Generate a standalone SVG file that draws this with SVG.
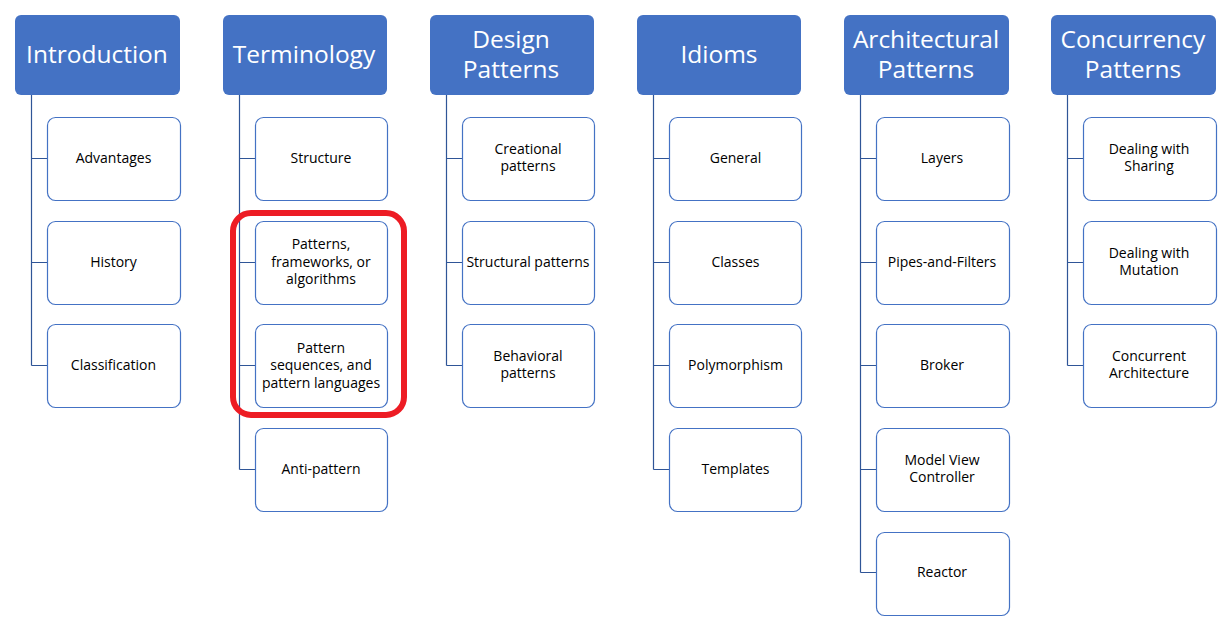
<svg xmlns="http://www.w3.org/2000/svg" width="1228" height="623" viewBox="0 0 1228 623">
<style>
.h{fill:#4472C4;}
.ht{fill:#fff;font-family:"Open Sans","Noto Sans",sans-serif;font-size:24.5px;text-anchor:middle;}
.c{fill:#fff;stroke:#4472C4;stroke-width:1.2;}
.ct{fill:#000;font-family:"Open Sans","Noto Sans",sans-serif;font-size:14px;text-anchor:middle;}
.ln{fill:none;stroke:#2F5597;stroke-width:1.2;}
</style>
<rect width="1228" height="623" fill="#fff"/>
<g id="connectors">
<path class="ln" d="M31.5 95V365.5M31.5 158.5H47M31.5 262.5H47M31.5 365.5H47"/>
<path class="ln" d="M239.5 95V469.5M239.5 158.5H255M239.5 262.5H255M239.5 365.5H255M239.5 469.5H255"/>
<path class="ln" d="M446.5 95V365.5M446.5 158.5H462M446.5 262.5H462M446.5 365.5H462"/>
<path class="ln" d="M653.5 95V469.5M653.5 158.5H669M653.5 262.5H669M653.5 365.5H669M653.5 469.5H669"/>
<path class="ln" d="M860.5 95V572.5M860.5 158.5H876M860.5 262.5H876M860.5 365.5H876M860.5 469.5H876M860.5 572.5H876"/>
<path class="ln" d="M1067.5 95V365.5M1067.5 158.5H1083M1067.5 262.5H1083M1067.5 365.5H1083"/>
</g>
<g id="introduction"><rect class="h" x="15" y="15" width="165" height="80" rx="6"/><text class="ht" x="97" y="63">Introduction</text></g>
<g id="advantages"><rect class="c" x="47.5" y="117.5" width="133" height="83" rx="8"/><text class="ct" x="113.5" y="163">Advantages</text></g>
<g id="history"><rect class="c" x="47.5" y="221.5" width="133" height="83" rx="8"/><text class="ct" x="113.5" y="267">History</text></g>
<g id="classification"><rect class="c" x="47.5" y="324.5" width="133" height="83" rx="8"/><text class="ct" x="113.5" y="370">Classification</text></g>

<g id="terminology"><rect class="h" x="223" y="15" width="164" height="80" rx="6"/><text class="ht" x="304" y="63">Terminology</text></g>
<g id="structure"><rect class="c" x="255.5" y="117.5" width="132" height="83" rx="8"/><text class="ct" x="321" y="163">Structure</text></g>
<g id="patterns-frameworks"><rect class="c" x="255.5" y="221.5" width="132" height="83" rx="8"/><text class="ct" x="321" y="249">Patterns,</text><text class="ct" x="321" y="266.5">frameworks, or</text><text class="ct" x="321" y="284">algorithms</text></g>
<g id="pattern-sequences"><rect class="c" x="255.5" y="324.5" width="132" height="83" rx="8"/><text class="ct" x="321" y="352.5">Pattern</text><text class="ct" x="321" y="370">sequences, and</text><text class="ct" x="321" y="387.5">pattern languages</text></g>
<g id="anti-pattern"><rect class="c" x="255.5" y="428.5" width="132" height="83" rx="8"/><text class="ct" x="321" y="474">Anti-pattern</text></g>

<g id="design-patterns"><rect class="h" x="430" y="15" width="164" height="80" rx="6"/><text class="ht" x="511" y="48">Design</text><text class="ht" x="511" y="78">Patterns</text></g>
<g id="creational"><rect class="c" x="462.5" y="117.5" width="132" height="83" rx="8"/><text class="ct" x="528" y="154">Creational</text><text class="ct" x="528" y="171">patterns</text></g>
<g id="structural"><rect class="c" x="462.5" y="221.5" width="132" height="83" rx="8"/><text class="ct" x="528" y="267">Structural patterns</text></g>
<g id="behavioral"><rect class="c" x="462.5" y="324.5" width="132" height="83" rx="8"/><text class="ct" x="528" y="361">Behavioral</text><text class="ct" x="528" y="378">patterns</text></g>

<g id="idioms"><rect class="h" x="637" y="15" width="164" height="80" rx="6"/><text class="ht" x="719" y="63">Idioms</text></g>
<g id="general"><rect class="c" x="669.5" y="117.5" width="132" height="83" rx="8"/><text class="ct" x="735.5" y="163">General</text></g>
<g id="classes"><rect class="c" x="669.5" y="221.5" width="132" height="83" rx="8"/><text class="ct" x="735.5" y="267">Classes</text></g>
<g id="polymorphism"><rect class="c" x="669.5" y="324.5" width="132" height="83" rx="8"/><text class="ct" x="735.5" y="370">Polymorphism</text></g>
<g id="templates"><rect class="c" x="669.5" y="428.5" width="132" height="83" rx="8"/><text class="ct" x="735.5" y="474">Templates</text></g>

<g id="architectural-patterns"><rect class="h" x="844" y="15" width="165" height="80" rx="6"/><text class="ht" x="926" y="48">Architectural</text><text class="ht" x="926" y="78">Patterns</text></g>
<g id="layers"><rect class="c" x="876.5" y="117.5" width="133" height="83" rx="8"/><text class="ct" x="942" y="163">Layers</text></g>
<g id="pipes-and-filters"><rect class="c" x="876.5" y="221.5" width="133" height="83" rx="8"/><text class="ct" x="942" y="267">Pipes-and-Filters</text></g>
<g id="broker"><rect class="c" x="876.5" y="324.5" width="133" height="83" rx="8"/><text class="ct" x="942" y="370">Broker</text></g>
<g id="mvc"><rect class="c" x="876.5" y="428.5" width="133" height="83" rx="8"/><text class="ct" x="942" y="465">Model View</text><text class="ct" x="942" y="482">Controller</text></g>
<g id="reactor"><rect class="c" x="876.5" y="532.5" width="133" height="83" rx="8"/><text class="ct" x="942" y="577">Reactor</text></g>

<g id="concurrency-patterns"><rect class="h" x="1051" y="15" width="165" height="80" rx="6"/><text class="ht" x="1133" y="48">Concurrency</text><text class="ht" x="1133" y="78">Patterns</text></g>
<g id="sharing"><rect class="c" x="1083.5" y="117.5" width="133" height="83" rx="8"/><text class="ct" x="1149" y="154">Dealing with</text><text class="ct" x="1149" y="171">Sharing</text></g>
<g id="mutation"><rect class="c" x="1083.5" y="221.5" width="133" height="83" rx="8"/><text class="ct" x="1149" y="258">Dealing with</text><text class="ct" x="1149" y="275">Mutation</text></g>
<g id="concurrent-architecture"><rect class="c" x="1083.5" y="324.5" width="133" height="83" rx="8"/><text class="ct" x="1149" y="361">Concurrent</text><text class="ct" x="1149" y="378">Architecture</text></g>

<g id="highlight"><rect x="233" y="213" width="171" height="202" rx="18" fill="none" stroke="#ED1C24" stroke-width="6"/></g>
</svg>
